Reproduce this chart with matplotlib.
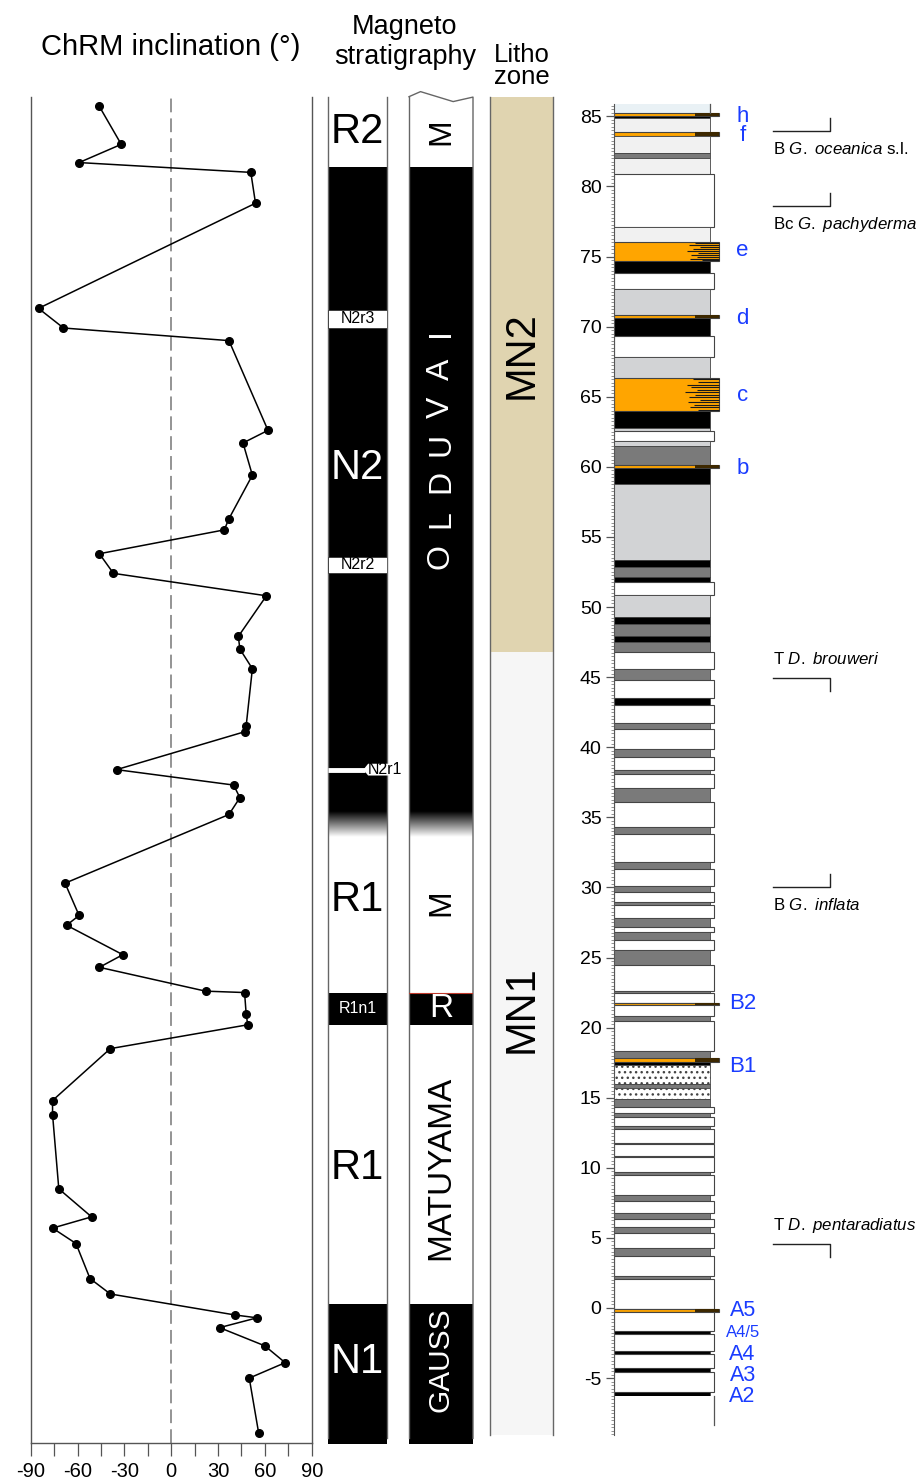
"""
ChRM inclination, magnetostratigraphy, litho zones and lithological log
drawn against one depth scale (m).
"""

import numpy as np
import matplotlib
matplotlib.use("Agg")
import matplotlib.pyplot as plt
from matplotlib.patches import Rectangle, Polygon
from matplotlib.ticker import MultipleLocator, FixedLocator

plt.rcParams['font.family'] = ['Liberation Sans', 'DejaVu Sans']
plt.rcParams['axes.unicode_minus'] = False
plt.rcParams['mathtext.fontset'] = 'custom'
plt.rcParams['mathtext.rm'] = 'Liberation Sans'
plt.rcParams['mathtext.it'] = 'Liberation Sans:italic'

# ---------------------------------------------------------------------------
# Data
# ---------------------------------------------------------------------------

inc_depth = [85.7, 83.0, 81.7, 81.0, 78.8, 71.3, 69.9, 69.0, 62.6, 61.7,
             59.4, 56.3, 55.5, 53.8, 52.4, 50.8, 47.9, 47.0, 45.6, 41.5,
             41.1, 38.4, 37.3, 36.4, 35.2, 30.3, 28.0, 27.3, 25.2, 24.3,
             22.6, 22.5, 21.0, 20.2, 18.5, 14.8, 13.8, 8.5, 6.5, 5.7,
             4.6, 2.1, 1.0, -0.5, -0.7, -1.4, -2.7, -3.9, -5.0, -8.9]
inc_value = [-46, -32, -59, 51, 54, -85, -69, 37, 62, 46,
             52, 37, 34, -46, -37, 61, 43, 44, 52, 48,
             47, -35, 40, 44, 37, -68, -59, -67, -31, -46,
             22, 47, 48, 49, -39, -76, -76, -72, -51, -76,
             -61, -52, -39, 41, 55, 31, 60, 73, 50, 56]

# normal polarity intervals (top, base); gradient below the Olduvai
normal_top = [81.4, 22.5, 0.3]
normal_base = [35.4, 20.2, -9.7]
olduvai_fade = (35.4, 33.6)
# reversed subchrons inside N2
subchron_top = [71.2, 53.6]
subchron_base = [69.9, 52.4]
subchron_name = ['N2r3', 'N2r2']
n2r1_depth = 38.4

pol_labels = ['R2', 'N2', 'R1', 'R1', 'N1']
pol_label_depth = [83.9, 59.9, 29.1, 10.0, -3.85]
pol_label_color = ['k', 'w', 'k', 'k', 'w']

chron_labels = ['M', 'M', 'MATUYAMA', 'GAUSS']
chron_label_depth = [83.9, 28.9, 10.0, -3.7]
chron_label_color = ['k', 'k', 'k', 'w']
chron_label_size = [23, 23, 24, 21.5]
olduvai_letters = list('OLDUVAI')

litho_zone_top = [86.38, 46.8]
litho_zone_base = [46.8, -9.06]
litho_zone_name = ['MN2', 'MN1']
litho_zone_depth = [68.0, 21.3]
litho_zone_color = ['#e0d4b0', '#f6f6f6']

# lithological log: contiguous beds
bed_bounds = [85.9, 85.2, 85.0, 84.85, 83.9, 83.6, 82.36, 82.05, 80.9, 77.1, 76.05,
              74.7, 73.8, 72.7, 70.8, 70.6, 69.3, 67.85, 66.35, 63.98, 62.8,
              62.55, 61.84, 61.48, 60.13, 59.95, 58.8, 53.35, 52.83, 52.12, 51.8,
              50.86, 49.3, 48.8, 47.9, 47.5, 46.8, 45.6, 44.8, 43.5, 43.0,
              41.75, 41.3, 39.85, 39.3, 38.4, 38.07, 37.07, 36.1, 34.3, 33.8,
              31.8, 31.3, 30.1, 29.67, 28.94, 28.77, 27.8, 27.2, 26.84, 26.25,
              25.53, 24.46, 22.63, 22.44, 21.78, 21.6, 20.83, 20.5, 18.3, 17.8,
              17.57, 17.3, 16.0, 15.67, 14.9, 14.36, 13.89, 13.6, 12.98, 12.8,
              11.79, 11.7, 10.84, 10.75, 9.72, 9.49, 8.06, 7.65, 6.75, 6.33,
              5.76, 5.37, 4.3, 3.73, 2.3, 2.1, -0.07, -0.26, -1.64, -1.85,
              -3.04, -3.28, -4.3, -4.54, -6.0, -6.25, -8.35]
bed_kind = list("bokvovdvwv" "okwlokwlok" "lwldoklkdk" "wlkdkdwdwk"
                "wdwdwdwdwd" "wdwdwdwdwd" "wdwdwowdwd" "oksdsdwdwd"
                "wdwdwdwdwd" "wdwdwdwowk" "wkwkwke")

e_hatch_depth = [75.98, 75.85, 75.7, 75.55, 75.42, 75.28, 75.12, 74.98, 74.85, 74.76]
e_hatch_start = [0.84, 0.78, 0.90, 0.82, 0.76, 0.88, 0.80, 0.86, 0.79, 0.92]
c_hatch_depth = [66.25, 66.05, 65.85, 65.7, 65.5, 65.3, 65.15, 64.95, 64.8,
                 64.6, 64.4, 64.25, 64.08]
c_hatch_start = [0.82, 0.88, 0.76, 0.80, 0.86, 0.74, 0.84, 0.78, 0.90,
                 0.77, 0.83, 0.79, 0.87]

bed_label = ['h', 'f', 'e', 'd', 'c', 'b', 'B2', 'B1', 'A5', 'A4/5', 'A4', 'A3', 'A2']
bed_label_depth = [85.0, 83.6, 75.45, 70.6, 65.1, 59.9, 21.75, 17.2,
                   -0.2, -1.78, -3.35, -4.78, -6.28]
bed_label_size = [16, 16, 16, 16, 16, 16, 16, 16, 15.5, 12, 15.5, 15.5, 15.5]

bio_label = [r'B $\mathit{G.}$ $\mathit{oceanica}$ s.l.', r'Bc $\mathit{G.}$ $\mathit{pachyderma}$',
             r'T $\mathit{D.}$ $\mathit{brouweri}$', r'B $\mathit{G.}$ $\mathit{inflata}$',
             r'T $\mathit{D.}$ $\mathit{pentaradiatus}$']
bio_depth = [83.97, 78.6, 44.96, 30.05, 4.54]
bio_kind = ['B', 'B', 'T', 'B', 'T']

# ---------------------------------------------------------------------------
# Layout helpers (pixel geometry of the figure)
# ---------------------------------------------------------------------------

W, H = 921, 1483
PX_PER_M = 14.02
Y_ZERO = 1308.0
D_TOP, D_BOT = 87.0, -9.63
Y_TOP = Y_ZERO - D_TOP * PX_PER_M
Y_BOT = Y_ZERO - D_BOT * PX_PER_M

fig = plt.figure(figsize=(W / 100, H / 100), dpi=100)


def add_ax(x0, x1):
    ax = fig.add_axes([x0 / W, 1 - Y_BOT / H, (x1 - x0) / W, (Y_BOT - Y_TOP) / H])
    ax.set_ylim(D_BOT, D_TOP)
    return ax


def ftext(x, y, s, **kw):
    fig.text(x / W, 1 - y / H, s, **kw)


# ---------------------------------------------------------------------------
# ChRM inclination
# ---------------------------------------------------------------------------

ax = add_ax(30.7, 311.7)
ax.set_xlim(-90, 90)
ax.plot([0, 0], [D_BOT, 86.38], color='#777777', lw=1.1, dashes=(9, 4))
ax.plot(inc_value, inc_depth, '-o', color='k', lw=1.1, ms=5.5)
ax.spines['top'].set_visible(False)
for side in ('left', 'right', 'bottom'):
    ax.spines[side].set_color('#555555')
    ax.spines[side].set_linewidth(1.0)
ax.spines['left'].set_bounds(D_BOT, 86.38)
ax.spines['right'].set_bounds(D_BOT, 86.38)
ax.set_yticks([])
ax.set_xticks(range(-90, 91, 30))
ax.xaxis.set_minor_locator(MultipleLocator(15))
ax.tick_params(axis='x', which='both', direction='out', length=9, width=0.9,
               color='#555555', labelsize=14.5, pad=5)
ftext(171, 47, 'ChRM inclination (°)', fontsize=21, ha='center', va='center')

# ---------------------------------------------------------------------------
# Magnetostratigraphy columns
# ---------------------------------------------------------------------------

def polarity_column(x0, x1, outline):
    cax = add_ax(x0, x1)
    cax.set_xlim(0, 1)
    cax.axis('off')
    shape = Polygon(outline, closed=True, facecolor='white', edgecolor='none',
                    clip_on=False, zorder=0.5)
    cax.add_patch(shape)
    for top, base in zip(normal_top, normal_base):
        r = Rectangle((0, base), 1, top - base, facecolor='black', edgecolor='none',
                      clip_on=False)
        cax.add_patch(r)
        r.set_clip_path(shape)
    grad = np.linspace(0, 1, 80)[:, None]
    im = cax.imshow(grad, extent=[0, 1, olduvai_fade[1], olduvai_fade[0]],
                    cmap='gray', vmin=0, vmax=1, aspect='auto',
                    interpolation='bilinear', zorder=1.2)
    im.set_clip_path(shape)
    cax.set_xlim(0, 1)
    cax.set_ylim(D_BOT, D_TOP)
    return cax


col1_outline = [(0, 86.38), (1, 86.38), (1, -9.3), (0.65, -9.35), (0.42, -9.63), (0, -9.27)]
col2_outline = [(0, 86.4), (0.18, 86.76), (0.69, 86.05), (1, 86.37),
                (1, -9.3), (0.69, -9.04), (0.40, -9.64), (0, -9.3)]

c1 = polarity_column(328, 387, col1_outline)
for x in (0, 1):
    c1.plot([x, x], [-9.3, 86.38], color='#666666', lw=1.0, clip_on=False)
for top, base, name in zip(subchron_top, subchron_base, subchron_name):
    c1.add_patch(Rectangle((0, base), 1, top - base, facecolor='white',
                           edgecolor='#333333', lw=0.6, zorder=2))
    c1.text(0.5, (top + base) / 2, name, ha='center', va='center', fontsize=11.5,
            zorder=3)
c1.plot([0, 0.62], [n2r1_depth, n2r1_depth], color='white', lw=3.5,
        solid_capstyle='butt', zorder=2)
c1.add_patch(Polygon([(0.60, n2r1_depth), (0.68, n2r1_depth + 0.42), (1.27, n2r1_depth + 0.42),
                      (1.27, n2r1_depth - 0.42), (0.68, n2r1_depth - 0.42)],
                     closed=True, facecolor='white', edgecolor='none', clip_on=False,
                     zorder=2))
c1.text(0.96, n2r1_depth, 'N2r1', ha='center', va='center', fontsize=11.5,
        clip_on=False, zorder=3)
c1.text(0.5, 21.35, 'R1n1', ha='center', va='center', fontsize=11.5, color='white',
        zorder=3)
for lab, d, c in zip(pol_labels, pol_label_depth, pol_label_color):
    c1.text(0.5, d, lab, ha='center', va='center', fontsize=30, color=c, zorder=3)

c2 = polarity_column(409, 473, col2_outline)
c2.plot([p[0] for p in col2_outline[:4]] + [1], [p[1] for p in col2_outline[:4]] + [-9.3],
        color='#666666', lw=1.0, clip_on=False)
c2.plot([0, 0], [86.4, -9.3], color='#666666', lw=1.0, clip_on=False)
c2.plot([0, 1], [normal_top[1], normal_top[1]], color='#c0392b', lw=0.8, zorder=3)
c2.text(0.5, 21.35, 'R', ha='center', va='center', fontsize=24, color='white', zorder=3)
for lab, d, c, size in zip(chron_labels, chron_label_depth, chron_label_color,
                           chron_label_size):
    c2.text(0.5, d, lab, ha='center', va='center', rotation=90, fontsize=size,
            color=c, zorder=3)
for d, ch in zip(np.linspace(53.6, 69.6, len(olduvai_letters)), olduvai_letters):
    c2.text(0.5, d, ch, ha='center', va='center', rotation=90, fontsize=23,
            color='white', zorder=3)

ftext(405, 42, 'Magneto\nstratigraphy', fontsize=19.5, ha='center', va='center',
      linespacing=1.25)

# ---------------------------------------------------------------------------
# Litho zones
# ---------------------------------------------------------------------------

lz = add_ax(490, 553)
lz.set_xlim(0, 1)
lz.axis('off')
for top, base, name, d, col in zip(litho_zone_top, litho_zone_base, litho_zone_name,
                                   litho_zone_depth, litho_zone_color):
    lz.add_patch(Rectangle((0, base), 1, top - base, facecolor=col, edgecolor='none'))
    lz.text(0.5, d, name, ha='center', va='center', rotation=90, fontsize=30)
for x in (0, 1):
    lz.plot([x, x], [litho_zone_base[-1], litho_zone_top[0]], color='#666666', lw=1.0,
            clip_on=False)
ftext(522, 66, 'Litho\nzone', fontsize=18.5, ha='center', va='center', linespacing=0.92)

# ---------------------------------------------------------------------------
# Lithological log
# ---------------------------------------------------------------------------

BED_FACE = {'b': '#e9f1f5', 'o': '#ffa500', 'k': '#000000', 'v': '#f1f1f1',
            'd': '#7a7a7a', 'w': '#ffffff', 'l': '#d2d3d5', 's': '#ffffff', 'e': '#ffffff'}
BED_WIDTH = {'w': 1.042, 'e': 1.042, 'o': 1.094}

assert len(bed_bounds) == len(bed_kind) + 1

lg = add_ax(614, 921)
lg.set_xlim(0, 307 / 96)
for top, base, kind in zip(bed_bounds[:-1], bed_bounds[1:], bed_kind):
    width = BED_WIDTH.get(kind, 1.0)
    if kind in ('b', 'e'):
        lg.add_patch(Rectangle((0, base), width, top - base,
                               facecolor=BED_FACE[kind], edgecolor='none'))
        lg.plot([width, width], [base, top], color='#555555', lw=0.9)
        continue
    hatch = '...' if kind == 's' else None
    lw = 0.8 if kind in ('w', 'o') else 0.6
    lg.add_patch(Rectangle((0, base), width, top - base, facecolor=BED_FACE[kind],
                           edgecolor='#444444', lw=lw, hatch=hatch))
    if kind == 'o' and top - base < 0.5:
        lg.add_patch(Rectangle((0.84, base), width - 0.84, top - base,
                               facecolor='#3d2800', edgecolor='none'))

lg.hlines(e_hatch_depth, e_hatch_start, 1.094, color='#1a1a1a', lw=0.8)
lg.hlines(c_hatch_depth, c_hatch_start, 1.094, color='#1a1a1a', lw=0.8)

for lab, d, size in zip(bed_label, bed_label_depth, bed_label_size):
    lg.text(1.34, d, lab, ha='center', va='center', fontsize=size, color='#1a3cff')

for lab, d, kind in zip(bio_label, bio_depth, bio_kind):
    hook = 0.93 if kind == 'B' else -0.93
    lg.plot([1.656, 2.25, 2.25], [d, d, d + hook], color='#222222', lw=1.0)
    text_d = d - 1.32 if kind == 'B' else d + 1.32
    lg.text(1.656, text_d, lab, ha='left', va='center', fontsize=12.2)

for side in ('top', 'right', 'bottom'):
    lg.spines[side].set_visible(False)
lg.spines['left'].set_bounds(-9.06, 85.9)
lg.spines['left'].set_color('#555555')
lg.set_xticks([])
lg.set_yticks(range(-5, 86, 5))
lg.yaxis.set_minor_locator(FixedLocator(np.arange(-9.0, 85.9, 0.25)))
lg.set_ylim(D_BOT, D_TOP)
lg.tick_params(axis='y', which='major', length=6, width=0.9, color='#555555',
               labelsize=14, pad=3)
lg.tick_params(axis='y', which='minor', length=2.5, width=0.5, color='#666666')

fig.savefig('out.png', dpi=100)
